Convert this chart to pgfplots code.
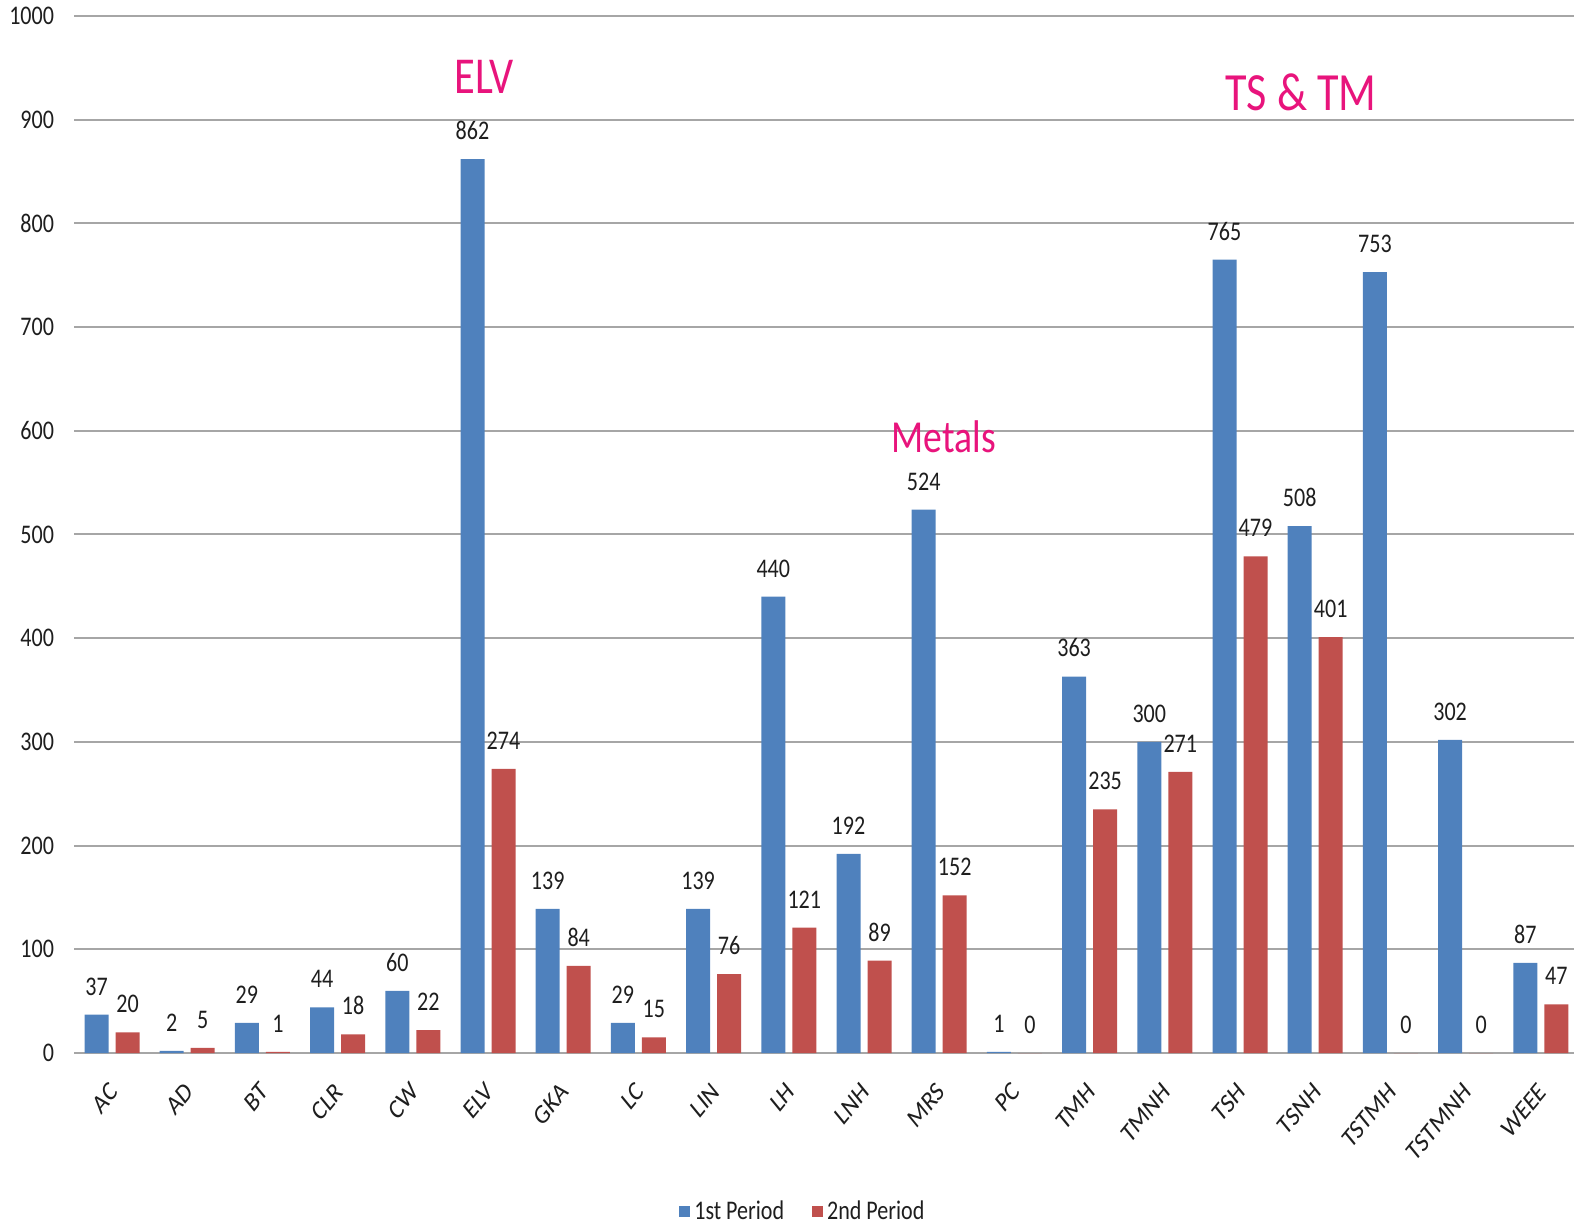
\documentclass[border=0pt]{standalone}
\usepackage{pgfplots}
\pgfplotsset{compat=1.18}
\usepackage{fontspec}
\setmainfont{Carlito}[FakeStretch=0.82]
\newfontfamily\plainfont{Carlito}
\definecolor{bblue}{RGB}{79,129,189}
\definecolor{bred}{RGB}{192,80,77}
\definecolor{anno}{RGB}{232,20,124}
\definecolor{gridc}{RGB}{166,166,166}
\definecolor{txt}{RGB}{30,30,30}
\newcommand{\lbl}{\fontsize{13.5}{16}\selectfont}
\begin{document}
\begin{tikzpicture}
\useasboundingbox (0,0) rectangle (787bp,613bp);
\begin{axis}[
  at={(37.2bp,86.5bp)}, anchor=south west,
  scale only axis, width=752bp, height=518.5bp,
  ybar=3.5bp, bar width=12bp,
  xmin=-0.5, xmax=19.5, ymin=0, ymax=1000,
  ytick={0,100,...,1000},
  xtick={0,...,19},
  xticklabels={AC,AD,BT,CLR,CW,ELV,GKA,LC,LIN,LH,LNH,MRS,PC,TMH,TMNH,TSH,TSNH,TSTMH,TSTMNH,WEEE},
  major tick length=0pt,
  axis line style={draw=none},
  ymajorgrids, grid style={gridc, line width=1bp},
  /pgf/number format/assume math mode=true,
  /pgf/number format/1000 sep={},
  ticklabel style={font=\lbl, text=txt},
  yticklabel style={inner sep=0pt, anchor=east, xshift=-10bp},
  xticklabel style={font=\plainfont\fontsize{13.8}{16}\selectfont, xshift=1bp, yshift=-17bp, xscale=0.82, rotate=45, anchor=east, inner sep=0pt},
  nodes near coords,
  every node near coord/.append style={font=\lbl, text=txt, anchor=south, inner sep=0pt, yshift=9.5bp},
  legend style={at={(0.485,-0.153)}, anchor=center, draw=none, fill=none, legend columns=2, font=\lbl, text=txt,
    /tikz/every even column/.append style={column sep=12bp}},
  legend image code/.code={\fill[#1] (0bp,-2.75bp) rectangle (5.5bp,2.75bp);},
  clip=false,
]
\addplot[fill=bblue, draw=none] coordinates {
(0,37) (1,2) (2,29) (3,44) (4,60) (5,862) (6,139) (7,29) (8,139) (9,440)
(10,192) (11,524) (12,1) (13,363) (14,300) (15,765) (16,508) (17,753) (18,302) (19,87)};
\addplot[fill=bred, draw=none] coordinates {
(0,20) (1,5) (2,1) (3,18) (4,22) (5,274) (6,84) (7,15) (8,76) (9,121)
(10,89) (11,152) (12,0) (13,235) (14,271) (15,479) (16,401) (17,0) (18,0) (19,47)};
\legend{1st Period, 2nd Period}
\node[font=\fontsize{26}{30}\selectfont, text=anno] at (axis cs:4.95,941) {ELV};
\node[font=\fontsize{23}{27}\selectfont, text=anno] at (axis cs:11.06,594) {Metals};
\node[font=\fontsize{27}{31}\selectfont, text=anno] at (axis cs:15.81,926) {TS \& TM};
\end{axis}
\end{tikzpicture}
\end{document}
